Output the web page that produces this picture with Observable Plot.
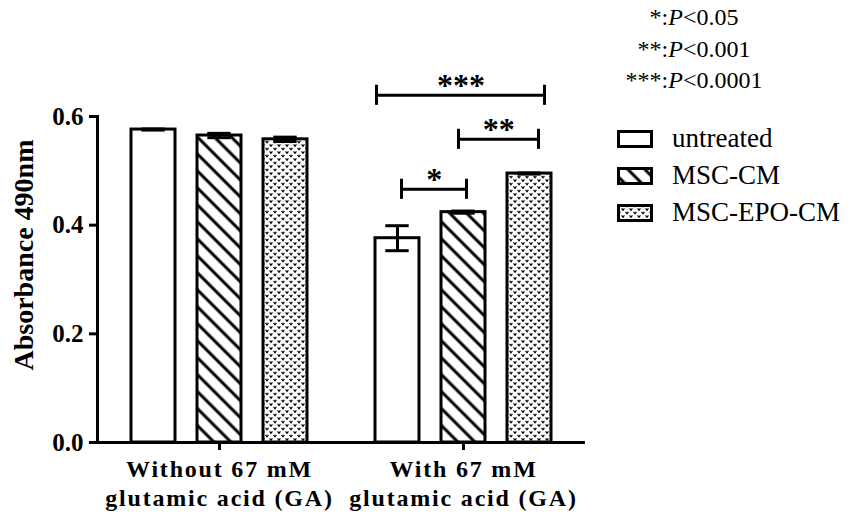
<!DOCTYPE html>
<html>
<head>
<meta charset="utf-8">
<script src="https://cdn.jsdelivr.net/npm/d3@7"></script>
<script src="https://cdn.jsdelivr.net/npm/@observablehq/plot@0.6"></script>
<style>
  html, body { margin: 0; padding: 0; background: #fff; }
  #wrap { position: relative; width: 850px; height: 519px; overflow: hidden; font-family: "Liberation Serif", "Times New Roman", serif; }
  #chart { position: absolute; left: 0; top: 0; }
  #ytitle { position: absolute; left: 24px; top: 255px; transform: translate(-50%, -50%) rotate(-90deg); white-space: nowrap; font-weight: bold; font-size: 28px; color: #000; }
  #pvals { position: absolute; left: 594px; top: 2px; width: 200px; text-align: center; font-size: 24px; line-height: 31.5px; color: #000; }
  #legend { position: absolute; left: 617px; top: 120px; font-size: 27px; color: #000; }
  #legend .row { display: flex; align-items: center; height: 37px; }
  #legend svg { margin-right: 19px; display: block; }
  g[aria-label="fx-axis tick label"] text { letter-spacing: 1.8px; }
</style>
</head>
<body>
<svg width="0" height="0" style="position:absolute">
  <defs>
    <pattern id="hatch" patternUnits="userSpaceOnUse" width="12" height="12" patternTransform="rotate(45)">
      <rect width="12" height="12" fill="#fff"/>
      <line x1="0" y1="6" x2="12" y2="6" stroke="#000" stroke-width="3"/>
    </pattern>
    <pattern id="dots" patternUnits="userSpaceOnUse" width="8" height="7">
      <rect width="8" height="7" fill="#fff"/>
      <path d="M0.6,0.8 L2,2.8 L3.4,0.8 M4.6,4.3 L6,6.3 L7.4,4.3" fill="none" stroke="#000" stroke-width="1.2"/>
    </pattern>
  </defs>
</svg>
<div id="wrap">
  <div id="chart"></div>
  <div id="ytitle"></div>
  <div id="pvals"></div>
  <div id="legend"></div>
</div>
<script>
// ---- data ----
const groups = ["Without 67 mM\nglutamic acid (GA)", "With 67 mM\nglutamic acid (GA)"];
const treatments = ["untreated", "MSC-CM", "MSC-EPO-CM"];
const withoutGA = [0.576, 0.565, 0.558];
const withoutGAErr = [0.001, 0.004, 0.004];
const withGA = [0.376, 0.424, 0.495];
const withGAErr = [0.023, 0.002, 0.001];
const yTicks = [0, 0.2, 0.4, 0.6];
const yTitle = "Absorbance 490nm";
const bracketFrom = ["untreated", "MSC-CM", "untreated"];
const bracketTo = ["MSC-EPO-CM", "MSC-EPO-CM", "MSC-CM"];
const bracketLevel = [0.639, 0.558, 0.466];
const bracketLabel = ["***", "**", "*"];
const pLabels = [["*:", "P", "<0.05"], ["**:", "P", "<0.001"], ["***:", "P", "<0.0001"]];

// ---- build tables ----
const rows = [];
[withoutGA, withGA].forEach((vals, gi) => {
  const errs = gi === 0 ? withoutGAErr : withGAErr;
  treatments.forEach((t, ti) => rows.push({group: groups[gi], treatment: t, value: vals[ti], err: errs[ti]}));
});
const brackets = bracketLabel.map((label, i) => ({group: groups[1], from: bracketFrom[i], to: bracketTo[i], y: bracketLevel[i], label}));

// ---- styles / layout ----
const fills = {"untreated": "#ffffff", "MSC-CM": "url(#hatch)", "MSC-EPO-CM": "url(#dots)"};
const serif = "'Liberation Serif', 'Times New Roman', serif";
const W = 850, H = 519, ML = 96, MR = 265, MT = 116, MB = 77;
const xPadInner = 0.33, xPadOuter = 0.5;
const facetW = (W - ML - MR) / groups.length;
const stepX = facetW / (treatments.length - xPadInner + 2 * xPadOuter);
const bw = stepX * (1 - xPadInner);
const capW = 24;
const bracketExt = [[21, 15], [5, 9], [-4, 3]]; // pixel extension of each bracket beyond bar centres
const capHalf = 0.0185;

const bracketMarks = [];
brackets.forEach((b, i) => {
  const [eL, eR] = bracketExt[i];
  const span = treatments.indexOf(b.to) - treatments.indexOf(b.from);
  bracketMarks.push(
    Plot.ruleY([b], {fx: "group", x1: "from", x2: "to", y: "y", insetLeft: bw / 2 - eL, insetRight: bw / 2 - eR, stroke: "#000", strokeWidth: 3}),
    Plot.ruleX([b], {fx: "group", x: "from", y1: d => d.y - capHalf, y2: d => d.y + capHalf, dx: -eL, stroke: "#000", strokeWidth: 3}),
    Plot.ruleX([b], {fx: "group", x: "to", y1: d => d.y - capHalf, y2: d => d.y + capHalf, dx: eR, stroke: "#000", strokeWidth: 3}),
    Plot.text([b], {fx: "group", x: "from", y: "y", text: "label", dx: span * stepX / 2 + (eR - eL) / 2, dy: -10, fontSize: 32, fontWeight: "bold", fontFamily: serif, fill: "#000"})
  );
});

const chart = Plot.plot({
  width: W, height: H,
  marginLeft: ML, marginRight: MR, marginTop: MT, marginBottom: MB,
  style: {fontFamily: serif, background: "transparent", color: "#000"},
  fx: {domain: groups, padding: 0, label: null},
  x: {domain: treatments, paddingInner: xPadInner, paddingOuter: xPadOuter, axis: null},
  y: {domain: [0, 0.6]},
  color: {type: "identity"},
  marks: [
    Plot.barY(rows, {fx: "group", x: "treatment", y: "value", fill: d => fills[d.treatment], stroke: "#000", strokeWidth: 3}),
    Plot.ruleX(rows, {fx: "group", x: "treatment", y1: d => d.value - d.err, y2: d => d.value + d.err, stroke: "#000", strokeWidth: 3}),
    Plot.tickY(rows, {fx: "group", x: "treatment", y: d => d.value + d.err, insetLeft: (bw - capW) / 2, insetRight: (bw - capW) / 2, stroke: "#000", strokeWidth: 3}),
    Plot.tickY(rows, {fx: "group", x: "treatment", y: d => d.value - d.err, insetLeft: (bw - capW) / 2, insetRight: (bw - capW) / 2, stroke: "#000", strokeWidth: 3}),
    ...bracketMarks,
    Plot.ruleY([0], {stroke: "#000", strokeWidth: 3}),
    Plot.frame({anchor: "left", facet: "super", stroke: "#000", strokeWidth: 3}),
    Plot.axisY({ticks: yTicks, tickFormat: d3.format(".1f"), tickSize: 8, tickPadding: 6, strokeWidth: 3, fontSize: 25, fontWeight: "bold", fontFamily: serif, label: null, color: "#000"}),
    Plot.axisFx({anchor: "bottom", tickSize: 8, tickPadding: 7, strokeWidth: 3, fontSize: 24, fontWeight: "bold", fontFamily: serif, lineHeight: 1.17, label: null, color: "#000"})
  ]
});
document.getElementById("chart").appendChild(chart);

// ---- y title ----
document.getElementById("ytitle").textContent = yTitle;

// ---- p-value key ----
const pv = document.getElementById("pvals");
pLabels.forEach(([a, p, b]) => {
  const div = document.createElement("div");
  div.append(a);
  const i = document.createElement("i");
  i.textContent = p;
  div.append(i, b);
  pv.appendChild(div);
});

// ---- legend ----
const lg = document.getElementById("legend");
treatments.forEach(t => {
  const row = document.createElement("div");
  row.className = "row";
  row.innerHTML = `<svg width="36" height="18"><rect x="1.5" y="1.5" width="33" height="15" fill="${fills[t]}" stroke="#000" stroke-width="3"/></svg>`;
  const span = document.createElement("span");
  span.textContent = t;
  row.appendChild(span);
  lg.appendChild(row);
});
</script>
</body>
</html>
